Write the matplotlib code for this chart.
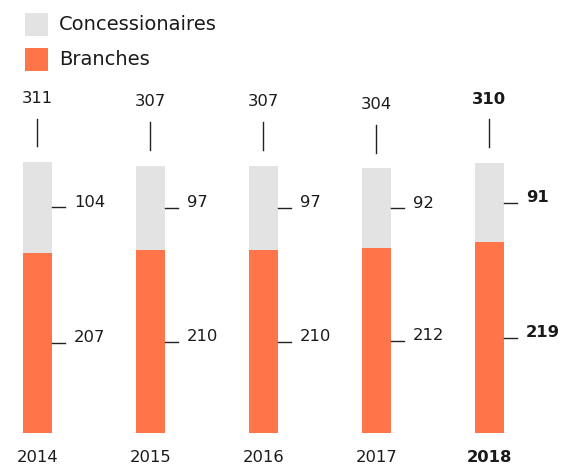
import numpy as np
import matplotlib.pyplot as plt
from matplotlib.patches import Rectangle

plt.rcParams['font.family'] = 'DejaVu Sans'

# data
years = ['2014', '2015', '2016', '2017', '2018']
branches = [207, 210, 210, 212, 219]
concessionaires = [104, 97, 97, 92, 91]
totals = [311, 307, 307, 304, 310]

ORANGE = '#FF7549'
GREY = '#E3E3E3'
TEXT = '#1a1a1a'
LINE = '#222222'

W, H = 564, 466
fig = plt.figure(figsize=(W / 100, H / 100), dpi=100)
ax = fig.add_axes([0, 0, 1, 1])
ax.axis('off')

x = np.arange(len(years))
bar_w = 0.257
ax.bar(x, branches, width=bar_w, color=ORANGE, linewidth=0)
ax.bar(x, concessionaires, bottom=branches, width=bar_w, color=GREY, linewidth=0)

for i in x:
    bold = 'bold' if i == len(years) - 1 else 'normal'
    right = i + bar_w / 2
    # total label with stem
    ax.plot([i, i], [totals[i] + 18, totals[i] + 50], color=LINE, lw=1.0)
    ax.text(i, totals[i] + 73, str(totals[i]), ha='center', va='center',
            fontsize=11.8, color=TEXT, fontweight=bold)
    # segment labels
    for mid, val in [(branches[i] / 2, branches[i]),
                     (branches[i] + concessionaires[i] / 2, concessionaires[i])]:
        ax.plot([right, right + 0.115], [mid, mid], color=LINE, lw=1.0)
        ax.text(right + 0.195, mid + 6, str(val), ha='left', va='center',
                fontsize=11.8, color=TEXT, fontweight=bold)
    # year label
    ax.text(i, -28.7, years[i], ha='center', va='center', fontsize=11.8,
            color=TEXT, fontweight=bold)

ax.set_xlim(-0.332, 4.663)
ax.set_ylim(-37.9, 497.1)

# legend
for (label, color, y0) in [('Concessionaires', GREY, 13), ('Branches', ORANGE, 48)]:
    fig.add_artist(Rectangle((25 / W, 1 - (y0 + 23) / H), 23 / W, 23 / H,
                             transform=fig.transFigure, color=color, lw=0))
    fig.text(59 / W, 1 - (y0 + 12) / H, label, ha='left', va='center',
             fontsize=14, color=TEXT)

fig.savefig('out.png', dpi=100)
